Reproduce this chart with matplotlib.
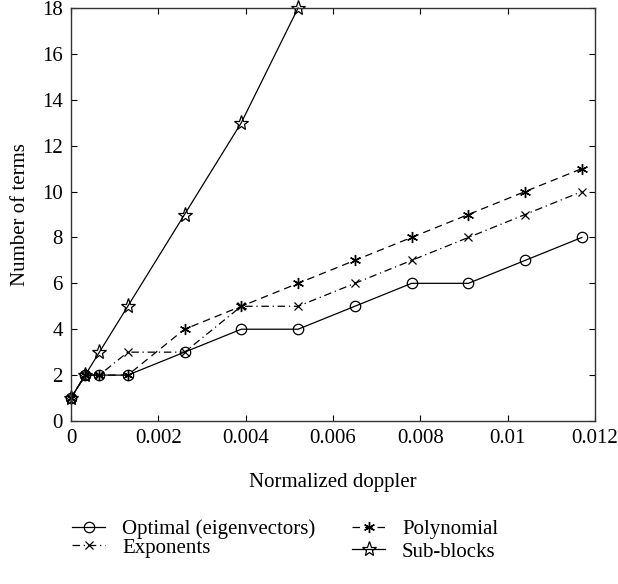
import matplotlib
matplotlib.use("Agg")
import matplotlib.pyplot as plt

# ---- data ----
doppler = [0, 0.000325, 0.00065, 0.0013, 0.0026, 0.0039, 0.0052, 0.0065, 0.0078, 0.0091, 0.0104, 0.0117]
optimal = [1, 2, 2, 2, 3, 4, 4, 5, 6, 6, 7, 8]
exponents = [1, 2, 2, 3, 3, 5, 5, 6, 7, 8, 9, 10]
polynomial = [1, 2, 2, 2, 4, 5, 6, 7, 8, 9, 10, 11]
subblocks_x = [0, 0.000325, 0.00065, 0.0013, 0.0026, 0.0039, 0.0052]
subblocks = [1, 2, 3, 5, 9, 13, 18]

xticks = [0, 0.002, 0.004, 0.006, 0.008, 0.01, 0.012]
xticklabels = ["0", "0.002", "0.004", "0.006", "0.008", "0.01", "0.012"]
yticks = list(range(0, 19, 2))

plt.rcParams['font.family'] = ['Liberation Serif', 'DejaVu Serif']
plt.rcParams['font.size'] = 15
FS = 15

W, H = 618, 584
fig = plt.figure(figsize=(W / 100, H / 100), dpi=100)
ax = fig.add_axes([71 / W, (H - 421) / H, (595 - 71) / W, (421 - 8) / H])

lw = 0.9
ms = 7.5
l1, = ax.plot(doppler, optimal, color='black', lw=lw, ls='-', marker='o', ms=ms,
              mfc='none', mec='black', mew=0.9, label='Optimal (eigenvectors)', clip_on=False)
l2, = ax.plot(doppler, exponents, color='black', lw=lw, ls=(0, (6, 3, 1, 3)), marker='x', ms=6,
              mec='black', mew=0.9, label='Exponents', clip_on=False)
l3, = ax.plot(doppler, polynomial, color='black', lw=lw, ls=(0, (6, 4)), marker=(6, 2, 0), ms=8,
              mec='black', mew=1.0, label='Polynomial', clip_on=False)
l4, = ax.plot(subblocks_x, subblocks, color='black', lw=lw, ls='-', marker='*', ms=11,
              mfc='none', mec='black', mew=0.9, label='Sub-blocks', clip_on=False)

ax.set_xlim(0, 0.012)
ax.set_ylim(0, 18)
ax.set_xticks(xticks)
ax.set_xticklabels(xticklabels)
ax.set_yticks(yticks)
ax.tick_params(direction='in', top=True, right=True, length=4, width=0.8, labelsize=FS, pad=6)
for s in ax.spines.values():
    s.set_linewidth(1.0)
    s.set_color('#333333')

ax.set_xlabel('Normalized doppler', fontsize=FS)
ax.xaxis.set_label_coords(0.5, -0.126)
ax.set_ylabel('Number of terms', fontsize=FS)
ax.yaxis.set_label_coords(-0.079, 0.5)

common = dict(frameon=False, fontsize=FS, handlelength=1.6, handletextpad=0.8,
              borderpad=0, borderaxespad=0, loc='center left')
fig.legend(handles=[l1, l2], bbox_to_anchor=(72 / W, (H - 538.5) / H),
           labelspacing=-0.05, **common)
fig.legend(handles=[l3, l4], bbox_to_anchor=(352 / W, (H - 540.5) / H),
           labelspacing=0.15, **common)

fig.savefig('out.png', dpi=100)
